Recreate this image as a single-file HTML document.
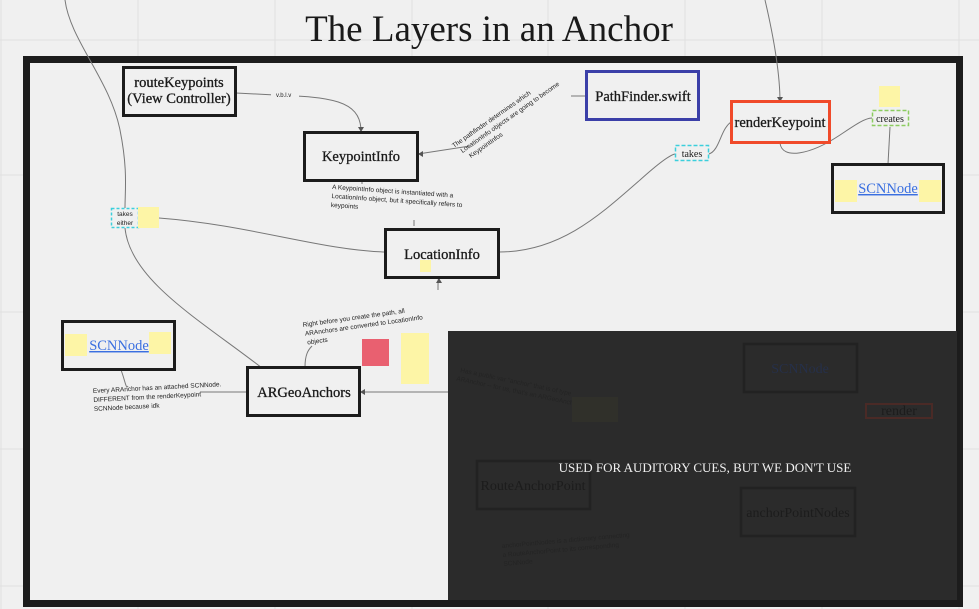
<!DOCTYPE html>
<html><head><meta charset="utf-8"><style>
html,body{margin:0;padding:0;background:#f0f0f0;}
svg{display:block;}
.s{font-family:"Liberation Serif",serif;fill:#1a1a1a;}
.n{font-family:"Liberation Sans",sans-serif;fill:#222;}
</style></head><body>
<svg width="979" height="609" viewBox="0 0 979 609" xmlns="http://www.w3.org/2000/svg">
<rect width="979" height="609" fill="#f0f0f0"/>
<g stroke="#e0e0e0" stroke-width="1">
<line x1="1" y1="0" x2="1" y2="609"/><line x1="138" y1="0" x2="138" y2="609"/><line x1="275" y1="0" x2="275" y2="609"/><line x1="412" y1="0" x2="412" y2="609"/><line x1="548" y1="0" x2="548" y2="609"/><line x1="685" y1="0" x2="685" y2="609"/><line x1="822" y1="0" x2="822" y2="609"/><line x1="959" y1="0" x2="959" y2="609"/>
<line x1="0" y1="40" x2="979" y2="40"/><line x1="0" y1="175" x2="979" y2="175"/><line x1="0" y1="312" x2="979" y2="312"/><line x1="0" y1="449" x2="979" y2="449"/><line x1="0" y1="586" x2="979" y2="586"/>
</g>
<text x="489" y="41" text-anchor="middle" class="s" font-size="37">The Layers in an Anchor</text>
<rect x="26.5" y="59.5" width="933" height="544" fill="#f0f0f0" stroke="#1c1c1c" stroke-width="7"/>

<g fill="none" stroke="#777" stroke-width="1">
<path d="M65 0 C70 40 110 80 120 130 C128 170 125 190 125 208"/>
<path d="M125 228 C130 280 200 320 262 368"/>
<path d="M159 218 C250 225 320 250 385 252"/>
<path d="M236 93 L275 95 C330 97 360 100 361 130"/>
<path d="M418 154 L470 146"/>
<path d="M571 96 L586 96"/>
<path d="M362 180 L362 184"/>
<path d="M414 226 L414 220"/>
<path d="M499 252 C560 252 600 215 640 180 C660 162 670 155 675 154"/>
<path d="M709 154 C720 150 720 130 731 122"/>
<path d="M765 0 C772 30 780 70 780 102"/>
<path d="M780 143 C782 160 810 155 840 135 C855 125 865 118 872 118"/>
<path d="M890 127 L888 164"/>
<path d="M121 370 C125 380 126 390 128 386"/>
<path d="M200 392 L247 392"/>
<path d="M305 367 C305 355 308 350 312 346"/>
<path d="M438 290 C438 282 438 278 439 278"/>
<path d="M360 392 L448 392"/>
</g>
<g fill="#555"><path d="M361 132 l-3 -5 h6z"/><path d="M418 154 l5 -3 v6z"/><path d="M780 102 l-3 -5 h6z"/><path d="M439 278 l-3 5 h6z"/><path d="M360 392 l5 -3 v6z"/></g>
<rect x="271" y="90" width="28" height="8" fill="#f0f0f0"/><text x="276" y="97" class="n" font-size="6">v.b.l.v</text>

<g fill="#f0f0f0" stroke="#1c1c1c" stroke-width="3">
<rect x="123.5" y="67.5" width="112" height="48"/>
<rect x="304.5" y="132.5" width="113" height="48"/>
<rect x="385.5" y="229.5" width="113" height="48"/>
<rect x="832.5" y="164.5" width="111" height="48"/>
<rect x="62.5" y="321.5" width="112" height="48"/>
<rect x="247.5" y="367.5" width="112" height="48"/>
</g>
<rect x="586.5" y="71.5" width="112" height="48" fill="#f0f0f0" stroke="#3b3fa8" stroke-width="3"/>
<rect x="731.5" y="101.5" width="98" height="41" fill="#f0f0f0" stroke="#f04a2a" stroke-width="3"/>
<rect x="675.5" y="145.5" width="33" height="15" fill="#f0f0f0" stroke="#3ccfdc" stroke-width="1.5" stroke-dasharray="4 2"/>
<rect x="872.5" y="110.5" width="36" height="15" fill="#f0f0f0" stroke="#8ccc60" stroke-width="1.5" stroke-dasharray="4 2"/>
<rect x="111.5" y="208.5" width="27" height="19" fill="#f0f0f0" stroke="#3ccfdc" stroke-width="1.5" stroke-dasharray="3 2"/>

<g class="s" style="fill:#1a1a1a" stroke="#1a1a1a" stroke-width="0.3">
<text x="179" y="87" text-anchor="middle" font-size="14.5">routeKeypoints</text>
<text x="179" y="103" text-anchor="middle" font-size="14.5">(View Controller)</text>
<text x="361" y="161" text-anchor="middle" font-size="14.5">KeypointInfo</text>
<text x="442" y="259" text-anchor="middle" font-size="14.5">LocationInfo</text>
<text x="643" y="101" text-anchor="middle" font-size="14.5">PathFinder.swift</text>
<text x="780" y="127" text-anchor="middle" font-size="14.5">renderKeypoint</text>
<text x="304" y="397" text-anchor="middle" font-size="14.5">ARGeoAnchors</text>
</g>
<text x="692" y="157" text-anchor="middle" class="s" font-size="10">takes</text>
<text x="890" y="122" text-anchor="middle" class="s" font-size="10">creates</text>
<text x="125" y="216" text-anchor="middle" class="n" font-size="6.5">takes</text>
<text x="125" y="225" text-anchor="middle" class="n" font-size="6.5">either</text>
<text x="888" y="193" text-anchor="middle" class="s" font-size="14.5" style="fill:#3a6fe0" text-decoration="underline">SCNNode</text>
<text x="119" y="350" text-anchor="middle" class="s" font-size="14.5" style="fill:#3a6fe0" text-decoration="underline">SCNNode</text>

<g fill="#fdf5a6"><rect x="138" y="207" width="21" height="21"/><rect x="420" y="260" width="11" height="12"/><rect x="879" y="86" width="21" height="21"/><rect x="835" y="180" width="22" height="22"/><rect x="919" y="180" width="22" height="22"/><rect x="65" y="334" width="22" height="22"/><rect x="149" y="332" width="22" height="22"/><rect x="401" y="333" width="28" height="51"/></g>
<rect x="362" y="339" width="27" height="27" fill="#e96070"/>

<g class="n" font-size="6.5">
<text transform="translate(332 189) rotate(4)"><tspan x="0" y="0">A KeypointInfo object is instantiated with a</tspan><tspan x="0" y="9">LocationInfo object, but it specifically refers to</tspan><tspan x="0" y="18">keypoints</tspan></text>
<text transform="translate(454 148) rotate(-35)"><tspan x="0" y="0">The pathfinder determines which</tspan><tspan x="4" y="9">LocationInfo objects are going to become</tspan><tspan x="8" y="18">KeypointInfos</tspan></text>
<text transform="translate(303 327) rotate(-8)"><tspan x="0" y="0">Right before you create the path, all</tspan><tspan x="1" y="9">ARAnchors are converted to LocationInfo</tspan><tspan x="2" y="18">objects</tspan></text>
<text transform="translate(93 393) rotate(-3)"><tspan x="0" y="0">Every ARAnchor has an attached SCNNode.</tspan><tspan x="0" y="9">DIFFERENT from the renderKeypoint</tspan><tspan x="0" y="18">SCNNode because idk</tspan></text>
</g>

<rect x="448" y="331" width="509" height="269" fill="#2b2b2b"/>
<g fill="none" stroke="#222" stroke-width="2.5">
<rect x="744" y="344" width="113" height="48"/><rect x="477" y="461" width="113" height="48"/><rect x="741" y="488" width="114" height="48"/>
</g>
<rect x="866" y="404" width="66" height="14" fill="none" stroke="#4a2a26" stroke-width="2"/>
<g class="s" font-size="14" style="fill:#1c1c1c">
<text x="800" y="373" text-anchor="middle" style="fill:#26304a">SCNNode</text>
<text x="533" y="490" text-anchor="middle">RouteAnchorPoint</text>
<text x="798" y="517" text-anchor="middle">anchorPointNodes</text>
<text x="899" y="415" text-anchor="middle">render</text>
</g>
<g class="n" font-size="6.5" style="fill:#242424">
<text transform="translate(460 372) rotate(12)"><tspan x="0" y="0">Has a public var "anchor" that is of type</tspan><tspan x="-2" y="9">ARAnchor -- for us, that's an ARGeoAnchor</tspan></text>
<text transform="translate(502 548) rotate(-5)"><tspan x="0" y="0">anchorPointNodes is a dictionary connecting</tspan><tspan x="0" y="9">a RouteAnchorPoint to its corresponding</tspan><tspan x="0" y="18">SCNNode</tspan></text>
</g>
<rect x="572" y="397" width="46" height="25" fill="#30302a"/>
<text x="705" y="472" text-anchor="middle" class="s" font-size="13" style="fill:#f0f0f0">USED FOR AUDITORY CUES, BUT WE DON'T USE</text>
</svg>
</body></html>
